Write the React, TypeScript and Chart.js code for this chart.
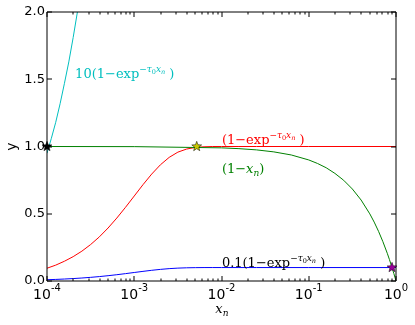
import React, { useEffect, useRef } from 'react';
import { Chart, registerables } from 'chart.js';
Chart.register(...registerables);

const W = 415;
const H = 325;

// (1 - exp(-tau0 x)) curve samples (red) and 0.1x (blue)
const curveX = [0.0001, 0.0001259, 0.0001585, 0.0001995, 0.0002512, 0.0003162, 0.0003981, 0.0005012, 0.000631, 0.0007943, 0.001, 0.001259, 0.001585, 0.001995, 0.002512, 0.003162, 0.003981, 0.005012, 0.00631, 0.007943, 0.01, 0.01585, 0.02512, 0.1, 1];
const redY = [0.095, 0.118, 0.147, 0.181, 0.222, 0.271, 0.328, 0.394, 0.468, 0.548, 0.632, 0.716, 0.795, 0.864, 0.919, 0.958, 0.981, 0.993, 0.998, 1.0, 1.0, 1.0, 1.0, 1.0, 1.0];
const blueY = [0.0095, 0.0118, 0.0147, 0.0181, 0.0222, 0.0271, 0.0328, 0.0394, 0.0468, 0.0548, 0.0632, 0.0716, 0.0795, 0.0864, 0.0919, 0.0958, 0.0981, 0.0993, 0.0998, 0.1, 0.1, 0.1, 0.1, 0.1, 0.1];

// 10(1 - exp(-tau0 x)) (cyan)
const cyanX = [0.0001, 0.0001122, 0.0001259, 0.0001413, 0.0001585, 0.0001778, 0.0001995, 0.0002239, 0.0002512];
const cyanY = [0.95, 1.061, 1.18, 1.318, 1.47, 1.629, 1.81, 2.006, 2.22];

// (1 - x) (green)
const greenX = [0.0001, 0.001, 0.01, 0.01585, 0.02512, 0.03981, 0.0631, 0.1, 0.1259, 0.1585, 0.1995, 0.2512, 0.3162, 0.3981, 0.5012, 0.5623, 0.631, 0.7079, 0.7943, 0.8414, 0.8913, 0.9441, 0.9772, 1.0];
const greenY = [1.0, 0.999, 0.99, 0.984, 0.975, 0.96, 0.937, 0.9, 0.874, 0.842, 0.8, 0.749, 0.684, 0.602, 0.499, 0.438, 0.369, 0.292, 0.206, 0.159, 0.109, 0.056, 0.023, 0.0];

// star markers
const starX = [0.0001, 0.0052, 0.9];
const starY = [1.0, 1.0, 0.1];
const starColors = ['#000000', '#c8c800', '#990099'];

// tick labels
const xTickValues = [1e-4, 1e-3, 1e-2, 1e-1, 1];
const xTickExponents = ['-4', '-3', '-2', '-1', '0'];
const yTickValues = [0, 0.5, 1.0, 1.5, 2.0];

// annotation labels
const labelX = [0.00021, 0.0101, 0.0101, 0.0101];
const labelY = [1.51, 1.02, 0.8, 0.104];
const labelColors = ['#00bfbf', '#ff0000', '#008000', '#000000'];
const labelPrefix = ['10(1\u2212exp', '(1\u2212exp', '(1\u2212', '0.1(1\u2212exp'];
const labelHasExp = [true, true, false, true];

type Seg = [string, string];

function drawRich(ctx: CanvasRenderingContext2D, x: number, y: number, segs: Seg[], color: string) {
  const base = 13;
  let cx = x;
  ctx.fillStyle = color;
  ctx.textAlign = 'left';
  ctx.textBaseline = 'alphabetic';
  for (const [t, k] of segs) {
    let size = base;
    let dy = 0;
    let italic = false;
    if (k === 'i') italic = true;
    if (k === 'sup') { size = 9; dy = -6; }
    if (k === 'supi') { size = 9; dy = -6; italic = true; }
    if (k === 'supsub') { size = 6.5; dy = -4; }
    if (k === 'supsubi') { size = 6.5; dy = -4; italic = true; }
    if (k === 'sub') { size = 9; dy = 3; }
    if (k === 'subi') { size = 9; dy = 3; italic = true; }
    ctx.font = `${italic ? 'italic ' : ''}${size}px "DejaVu Serif"`;
    ctx.fillText(t, cx, y + dy);
    cx += ctx.measureText(t).width;
  }
}

function drawStar(ctx: CanvasRenderingContext2D, x: number, y: number, color: string) {
  const R = 5.2;
  const r = 2.2;
  ctx.beginPath();
  for (let i = 0; i < 10; i++) {
    const rad = i % 2 === 0 ? R : r;
    const a = -Math.PI / 2 + (i * Math.PI) / 5;
    const px = x + rad * Math.cos(a);
    const py = y + rad * Math.sin(a);
    if (i === 0) ctx.moveTo(px, py);
    else ctx.lineTo(px, py);
  }
  ctx.closePath();
  ctx.fillStyle = color;
  ctx.fill();
  ctx.lineWidth = 0.5;
  ctx.strokeStyle = '#000';
  ctx.stroke();
}

const framePlugin = {
  id: 'frame',
  afterDatasetsDraw(chart: any) {
    const { ctx, chartArea: a, scales } = chart;
    const xs = scales.x;
    const ys = scales.y;
    ctx.save();
    ctx.strokeStyle = '#000';
    ctx.lineWidth = 1;
    ctx.beginPath();
    ctx.rect(a.left, a.top, a.right - a.left, a.bottom - a.top);
    ctx.stroke();
    ctx.beginPath();
    for (let d = -4; d <= 0; d++) {
      for (let m = 1; m <= 9; m++) {
        const v = m * Math.pow(10, d);
        if (v > 1.0000001) continue;
        const px = Math.round(xs.getPixelForValue(v));
        const len = m === 1 ? 5 : 2.5;
        ctx.moveTo(px, a.bottom);
        ctx.lineTo(px, a.bottom - len);
        ctx.moveTo(px, a.top);
        ctx.lineTo(px, a.top + len);
      }
    }
    for (const v of yTickValues) {
      const py = Math.round(ys.getPixelForValue(v));
      ctx.moveTo(a.left, py);
      ctx.lineTo(a.left + 5, py);
      ctx.moveTo(a.right, py);
      ctx.lineTo(a.right - 5, py);
    }
    ctx.stroke();
    ctx.restore();
  },
  afterDraw(chart: any) {
    const { ctx, chartArea: a, scales } = chart;
    const xs = scales.x;
    const ys = scales.y;
    ctx.save();
    ctx.fillStyle = '#000';
    ctx.textBaseline = 'alphabetic';
    xTickValues.forEach((v, i) => {
      const px = xs.getPixelForValue(v);
      ctx.font = '14px "DejaVu Sans"';
      const bw = ctx.measureText('10').width;
      ctx.font = '10px "DejaVu Sans"';
      const ew = ctx.measureText(xTickExponents[i]).width;
      const start = px - (bw + ew) / 2;
      ctx.font = '14px "DejaVu Sans"';
      ctx.textAlign = 'left';
      ctx.fillText('10', start, a.bottom + 18);
      ctx.font = '10px "DejaVu Sans"';
      ctx.fillText(xTickExponents[i], start + bw, a.bottom + 10);
    });
    // x title
    const cxT = (a.left + a.right) / 2;
    ctx.font = 'italic 13px "DejaVu Serif"';
    const xw = ctx.measureText('x').width;
    ctx.textAlign = 'left';
    ctx.fillText('x', cxT - (xw + 5) / 2, a.bottom + 32);
    ctx.font = 'italic 9px "DejaVu Serif"';
    ctx.fillText('n', cxT - (xw + 5) / 2 + xw, a.bottom + 35);
    // y title
    ctx.save();
    ctx.translate(12, (a.top + a.bottom) / 2);
    ctx.rotate(-Math.PI / 2);
    ctx.font = '14px "DejaVu Sans"';
    ctx.textAlign = 'center';
    ctx.textBaseline = 'middle';
    ctx.fillText('y', 0, 0);
    ctx.restore();
    // annotations
    labelX.forEach((lx, i) => {
      const px = xs.getPixelForValue(lx);
      const py = ys.getPixelForValue(labelY[i]);
      const segs: Seg[] = [[labelPrefix[i], 'n']];
      if (labelHasExp[i]) {
        segs.push(['\u2212', 'sup'], ['\u03c4', 'supi'], ['0', 'supsub'], ['x', 'supi'], ['n', 'supsubi'], [' )', 'n']);
      } else {
        segs.push(['x', 'i'], ['n', 'subi'], [')', 'n']);
      }
      drawRich(ctx, px, py, segs, labelColors[i]);
    });
    // stars
    starX.forEach((sx, i) => {
      drawStar(ctx, xs.getPixelForValue(sx), ys.getPixelForValue(starY[i]), starColors[i]);
    });
    ctx.restore();
  },
};

function pts(xa: number[], ya: number[]) {
  return xa.map((x, i) => ({ x, y: ya[i] }));
}

export default function App() {
  const ref = useRef<HTMLCanvasElement>(null);
  useEffect(() => {
    document.body.style.margin = '0';
    const line = (data: any, color: string) => ({
      data,
      showLine: true,
      borderColor: color,
      borderWidth: 1,
      pointRadius: 0,
      tension: 0,
      fill: false,
    });
    const chart = new Chart(ref.current as HTMLCanvasElement, {
      type: 'scatter',
      data: {
        datasets: [
          line(pts(cyanX, cyanY), '#00bfbf'),
          line(pts(greenX, greenY), '#008000'),
          line(pts(curveX, redY), '#ff0000'),
          line(pts(curveX, blueY), '#0000ff'),
        ] as any,
      },
      options: {
        responsive: false,
        animation: false,
        devicePixelRatio: 1,
        layout: { padding: { top: 12, right: 19, left: 0, bottom: 0 } },
        plugins: { legend: { display: false }, tooltip: { enabled: false } },
        scales: {
          x: {
            type: 'logarithmic',
            min: 1e-4,
            max: 1,
            grid: { display: false, drawTicks: false },
            border: { display: false },
            ticks: { display: false },
            afterFit: (s: any) => { s.height = 44; },
          },
          y: {
            min: 0,
            max: 2,
            grid: { display: false, drawTicks: false },
            border: { display: false },
            ticks: {
              stepSize: 0.5,
              callback: (v: any) => Number(v).toFixed(1),
              font: { family: 'DejaVu Sans', size: 13 },
              color: '#000',
              padding: 2,
            },
            afterFit: (s: any) => { s.width = 47; },
          },
        },
      } as any,
      plugins: [framePlugin],
    });
    return () => chart.destroy();
  }, []);
  return <canvas ref={ref} width={W} height={H} style={{ display: 'block' }} />;
}
